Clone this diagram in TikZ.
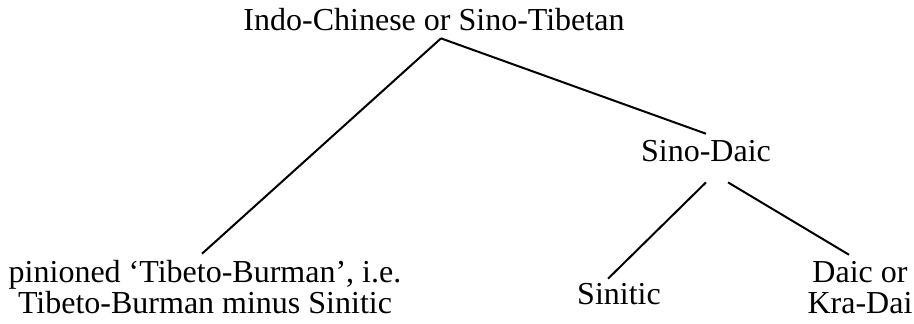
\documentclass[tikz,border=0pt]{standalone}
\usepackage{fontspec}
\setmainfont{Liberation Serif}

\begin{document}
\begin{tikzpicture}[
    x=0.5pt, y=0.5pt,
    lang/.style={font=\fontsize{16}{15.5}\selectfont, align=center, anchor=base},
    branch/.style={line width=1pt}
]
\useasboundingbox (0,0) rectangle (914,324);

% Top of the tree
\node[lang] (st) at (434, 293) {Indo-Chinese or Sino-Tibetan};

% Middle level
\node[lang] (sd) at (706, 162) {Sino-Daic};

% Leaves
\node[lang] (tb) at (205, 10) {pinioned `Tibeto-Burman', i.e.\\Tibeto-Burman minus Sinitic};
\node[lang] (sin) at (619, 19) {Sinitic};
\node[lang] (daic) at (860, 10) {Daic or\\Kra-Dai};

% Branches
\draw[branch] ([xshift=3.5pt]st.south) -- ([xshift=-1.5pt]tb.north);
\draw[branch] ([xshift=3.5pt]st.south) -- (sd.north);
\draw[branch] ([yshift=-6.5pt]sd.south) -- ([xshift=-5.5pt, yshift=-1pt]sin.north);
\draw[branch] ([xshift=11pt, yshift=-6.5pt]sd.south) -- ([xshift=-5.5pt]daic.north);

\end{tikzpicture}
\end{document}
